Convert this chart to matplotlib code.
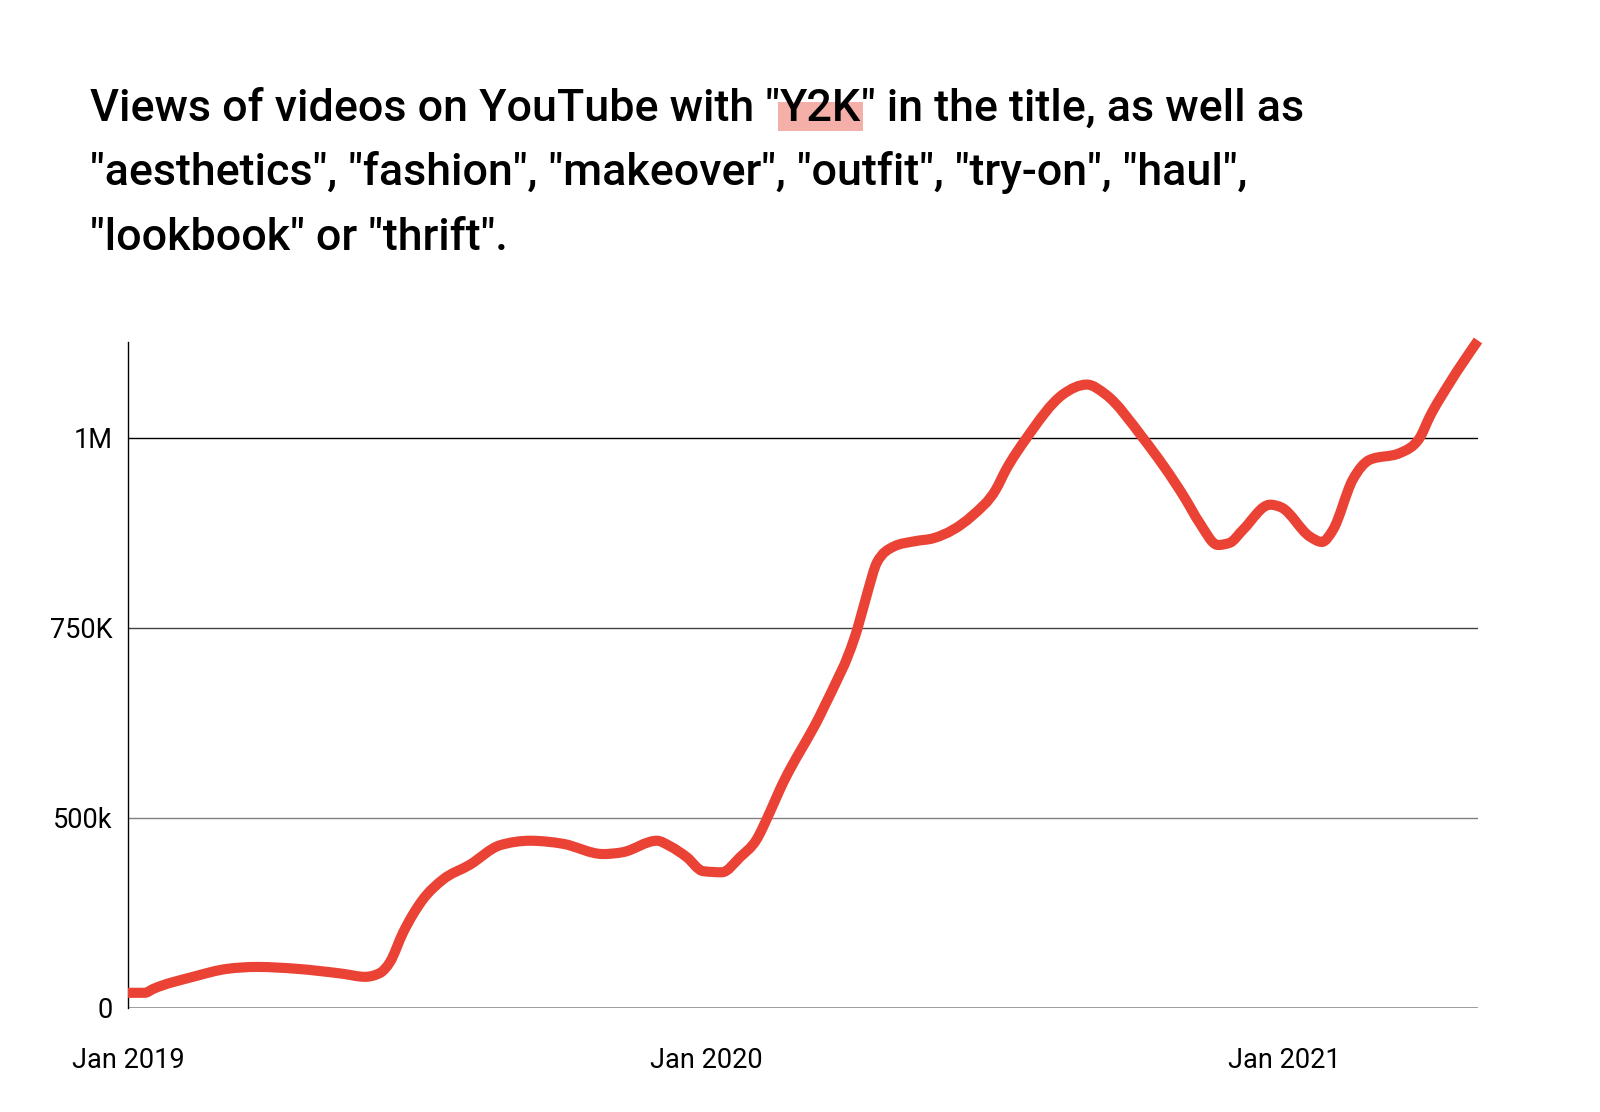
import numpy as np
import matplotlib
matplotlib.use("Agg")
import matplotlib.pyplot as plt
from matplotlib.patches import Rectangle, PathPatch
from matplotlib.path import Path
from matplotlib.transforms import Affine2D

plt.rcParams['font.family'] = ['Roboto', 'DejaVu Sans']

# months since Jan 2019, views (thousands)
months = [0.00, 0.35, 0.52, 1.35, 2.06, 2.68, 3.51, 4.46, 4.92, 5.23,
          5.44, 5.71, 6.12, 6.54, 7.10, 7.72, 8.35, 9.03, 9.86, 10.28,
          10.98, 11.25, 11.60, 11.94, 12.33, 12.71, 13.04, 13.33, 13.54, 14.43,
          15.15, 15.36, 15.55, 15.90, 16.34, 16.73, 17.52, 18.02, 18.23, 18.66,
          19.41, 19.91, 20.30, 21.07, 21.94, 22.25, 22.63, 22.88, 23.15, 23.71,
          23.96, 24.54, 24.79, 25.02, 25.43, 25.78, 26.41, 26.82, 27.03, 27.44,
          28.03]
views_k = [40, 40, 50, 82, 103, 108, 103, 90, 82, 92,
           121, 198, 285, 338, 377, 428, 440, 432, 405, 410,
           440, 426, 397, 360, 357, 397, 441, 508, 538, 643,
           750, 798, 836, 857, 864, 868, 897, 932, 958, 1000,
           1057, 1070, 1057, 1000, 921, 888, 859, 862, 879, 912,
           908, 870, 863, 879, 945, 971, 980, 1000, 1028, 1072,
           1128]

ytick_vals = [0, 500000, 750000, 1000000]
ytick_labels = ['0', '500k', '750K', '1M']
xtick_vals = [0, 12, 24]
xtick_labels = ['Jan 2019', 'Jan 2020', 'Jan 2021']

views = np.array(views_k) * 1000.0
YMAX = 1126000


# the axis in the original puts 0, 500k, 750K, 1M at equal spacing
def fwd(v):
    v = np.asarray(v, dtype=float)
    return np.where(v <= 500000, v / 500000, 1 + (v - 500000) / 250000)


def inv(t):
    t = np.asarray(t, dtype=float)
    return np.where(t <= 1, t * 500000, 500000 + (t - 1) * 250000)


def monotone_path(x, y):
    # smooth line like d3.curveMonotoneX, built as cubic bezier segments
    x = np.asarray(x, float)
    y = np.asarray(y, float)
    h = np.diff(x)
    d = np.diff(y) / h
    m = np.zeros_like(y)
    for k in range(1, len(y) - 1):
        if d[k - 1] * d[k] <= 0:
            m[k] = 0
        else:
            p = (d[k - 1] * h[k] + d[k] * h[k - 1]) / (h[k - 1] + h[k])
            m[k] = (np.sign(d[k - 1]) + np.sign(d[k])) * min(abs(d[k - 1]), abs(d[k]), 0.5 * abs(p))
    m[0] = (3 * d[0] - m[1]) / 2
    m[-1] = (3 * d[-1] - m[-2]) / 2
    verts = [(x[0], y[0])]
    codes = [Path.MOVETO]
    for k in range(len(x) - 1):
        dx = h[k] / 3
        verts += [(x[k] + dx, y[k] + m[k] * dx), (x[k + 1] - dx, y[k + 1] - m[k + 1] * dx), (x[k + 1], y[k + 1])]
        codes += [Path.CURVE4] * 3
    return Path(verts, codes)


W, H = 1600, 1112
fig = plt.figure(figsize=(W / 100, H / 100), dpi=100)
ax = fig.add_axes([128 / W, 1 - 1008 / H, (1478 - 128) / W, (1008 - 342) / H])
ax.set_yscale('function', functions=(fwd, inv))
ax.set_xlim(months[0], months[-1])
ax.set_ylim(0, YMAX)

# line path in (month, scaled value) space, mapped onto the axes
tvals = fwd(views)
to_axes = Affine2D().translate(-months[0], 0).scale(1 / (months[-1] - months[0]), 1 / float(fwd(YMAX)))
line = PathPatch(monotone_path(months, tvals), facecolor='none', edgecolor='#EA4335', lw=7.3,
                 capstyle='butt', joinstyle='round', transform=to_axes + ax.transAxes,
                 clip_on=False, zorder=3)
ax.add_patch(line)

ax.set_yticks(ytick_vals)
ax.set_yticklabels(ytick_labels)
ax.set_xticks(xtick_vals)
ax.set_xticklabels(xtick_labels)
ax.tick_params(axis='both', length=0, labelsize=19.5, labelcolor='black')
ax.tick_params(axis='y', pad=11)
ax.tick_params(axis='x', pad=28)

ax.grid(axis='y', lw=1.0, zorder=1)
grid_colors = ['#808080', '#808080', '#444444', '#000000']
for gl, c in zip(ax.get_ygridlines(), grid_colors):
    gl.set_color(c)
ax.get_ygridlines()[0].set_linewidth(1.8)

for s in ['top', 'right', 'bottom']:
    ax.spines[s].set_visible(False)
ax.spines['left'].set_color('black')
ax.spines['left'].set_linewidth(1.0)

# title, three lines, with "Y2K" highlighted
x0 = 90 / W
base = [121, 185, 250]
tkw = dict(fontsize=32.3, fontweight='medium', color='black', va='baseline', ha='left')
renderer = fig.canvas.get_renderer()
p1 = fig.text(x0, 1 - base[0] / H, 'Views of videos on YouTube with "', **tkw)
bb = p1.get_window_extent(renderer)
p2 = fig.text(bb.x1 / W, 1 - base[0] / H, 'Y2K', zorder=5, **tkw)
bb2 = p2.get_window_extent(renderer)
p3 = fig.text(bb2.x1 / W, 1 - base[0] / H, '" in the title, as well as', **tkw)
yb = H - base[0]
fig.patches.append(Rectangle(((bb2.x0 - 2) / W, (yb - 10) / H), (bb2.x1 - bb2.x0 + 4) / W, 29 / H,
                             transform=fig.transFigure, facecolor='#F4AFA8', edgecolor='none',
                             zorder=1, figure=fig))
fig.text(x0, 1 - base[1] / H,
         '"aesthetics", "fashion", "makeover", "outfit", "try-on", "haul",', **tkw)
fig.text(x0, 1 - base[2] / H, '"lookbook" or "thrift".', **tkw)

fig.savefig('out.png', dpi=100, facecolor='white')
